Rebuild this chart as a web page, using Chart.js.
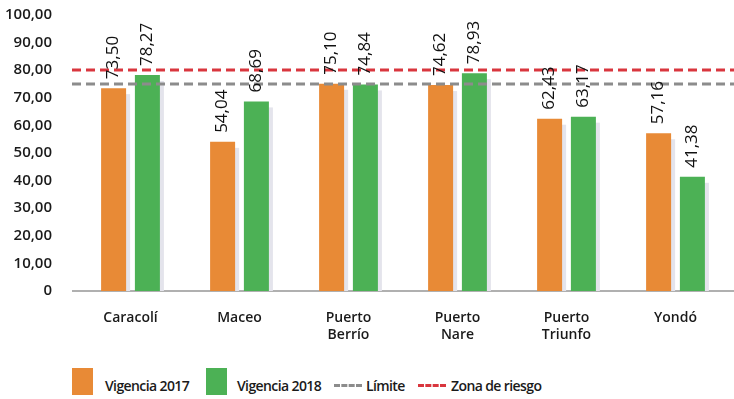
<!DOCTYPE html>
<html>
<head>
<meta charset="utf-8">
<script src="https://cdn.jsdelivr.net/npm/chart.js@4.4.1/dist/chart.umd.min.js"></script>
<style>
  html, body { margin:0; padding:0; background:#fff; }
  body { width:734px; height:399px; overflow:hidden; font-family:"Open Sans", sans-serif; }
  #wrap { position:relative; width:734px; height:348px; }
  #legend { position:absolute; top:368px; left:0; height:27px; width:734px; font-size:14px; font-weight:600; color:#1a1a1a; letter-spacing:-0.6px; }
  #legend div { position:absolute; top:0; height:27px; }
  #legend .txt { top:8px; height:auto; line-height:20px; }
  .box { width:21px; }
  .dash { height:0 !important; top:16px !important; border-top:3px dashed; }
</style>
</head>
<body>
<div id="wrap"><canvas id="chart"></canvas></div>
<div id="legend">
  <div class="box" style="left:72px; background:#e88a36"></div>
  <div class="txt" style="left:105px">Vigencia 2017</div>
  <div class="box" style="left:206px; background:#4cb155"></div>
  <div class="txt" style="left:237px">Vigencia 2018</div>
  <div class="dash" style="left:334px; width:28px; border-color:#8c8c8c"></div>
  <div class="txt" style="left:366px">Límite</div>
  <div class="dash" style="left:418px; width:28px; border-color:#d9363e"></div>
  <div class="txt" style="left:451px">Zona de riesgo</div>
</div>
<script>
const municipios = [['Caracolí'], ['Maceo'], ['Puerto', 'Berrío'], ['Puerto', 'Nare'], ['Puerto', 'Triunfo'], ['Yondó']];
const vigencia2017 = [73.50, 54.04, 75.10, 74.62, 62.43, 57.16];
const vigencia2018 = [78.27, 68.69, 74.84, 78.93, 63.17, 41.38];
const limite = [75];
const zonaRiesgo = [80];
const yTicks = [0, 10, 20, 30, 40, 50, 60, 70, 80, 90, 100];

const fmt = v => v === 0 ? '0' : v.toFixed(2).replace('.', ',');

// linea base y sombra gris detrás de cada barra
const barShadow = {
    id: 'barShadow',
    beforeDatasetsDraw(chart) {
        const ctx = chart.ctx;
        const area = chart.chartArea;
        const y0 = chart.scales.y.getPixelForValue(0);
        ctx.save();
        ctx.strokeStyle = '#b0b0b0';
        ctx.lineWidth = 2;
        ctx.beginPath();
        ctx.moveTo(area.left - 4, y0);
        ctx.lineTo(area.right + 4, y0);
        ctx.stroke();

        ctx.fillStyle = '#e4e4ec';
        chart.data.datasets.forEach((ds, i) => {
            chart.getDatasetMeta(i).data.forEach(bar => {
                const w = bar.width;
                ctx.fillRect(bar.x - w / 2 + 4, bar.y + 6, w, bar.base - bar.y - 6);
            });
        });
        ctx.restore();
    }
};

// líneas de referencia y etiquetas verticales
const refLines = {
    id: 'refLines',
    afterDatasetsDraw(chart) {
        const ctx = chart.ctx;
        const area = chart.chartArea;
        const y = chart.scales.y;

        const lines = [
            { v: limite[0], color: '#8c8c8c' },
            { v: zonaRiesgo[0], color: '#d9363e' }
        ];
        ctx.save();
        ctx.lineWidth = 3;
        ctx.setLineDash([9, 5]);
        lines.forEach(l => {
            const py = Math.round(y.getPixelForValue(l.v));
            ctx.strokeStyle = l.color;
            ctx.beginPath();
            ctx.moveTo(area.left - 4, py);
            ctx.lineTo(chart.width, py);
            ctx.stroke();
        });
        ctx.restore();

        ctx.save();
        ctx.fillStyle = '#111';
        ctx.font = '17px "Open Sans"';
        ctx.textAlign = 'left';
        ctx.textBaseline = 'middle';
        chart.data.datasets.forEach((ds, i) => {
            chart.getDatasetMeta(i).data.forEach((bar, j) => {
                ctx.save();
                ctx.translate(bar.x, bar.y - 9);
                ctx.rotate(-Math.PI / 2);
                ctx.fillText(fmt(ds.data[j]), 0, 0);
                ctx.restore();
            });
        });
        ctx.restore();
    }
};

new Chart(document.getElementById('chart'), {
    type: 'bar',
    data: {
        labels: municipios,
        datasets: [
            { label: 'Vigencia 2017', data: vigencia2017, backgroundColor: '#e88a36', categoryPercentage: 0.62, barPercentage: 0.74 },
            { label: 'Vigencia 2018', data: vigencia2018, backgroundColor: '#4cb155', categoryPercentage: 0.62, barPercentage: 0.74 }
        ]
    },
    options: {
        responsive: true,
        maintainAspectRatio: false,
        animation: false,
        layout: { padding: { top: 15, right: 4, left: 0, bottom: 0 } },
        plugins: { legend: { display: false }, tooltip: { enabled: false } },
        scales: {
            x: {
                afterFit: axis => { axis.height = 57; },
                grid: { display: false },
                border: { display: false },
                ticks: { color: '#1a1a1a', font: { family: 'Open Sans', size: 14, weight: '600' }, padding: 11 }
            },
            y: {
                min: 0,
                max: 100,
                afterBuildTicks: axis => { axis.ticks = yTicks.map(v => ({ value: v })); },
                afterFit: axis => { axis.width = 76; axis.paddingTop = 0; axis.paddingBottom = 0; },
                grid: { display: false },
                border: { display: false },
                ticks: { color: '#1a1a1a', font: { family: 'Open Sans', size: 15, weight: '600' }, padding: 16, callback: v => fmt(v) }
            }
        }
    },
    plugins: [barShadow, refLines]
});
</script>
</body>
</html>
